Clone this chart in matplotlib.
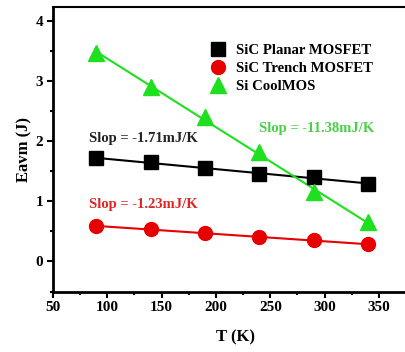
import numpy as np
import matplotlib.pyplot as plt
from matplotlib.ticker import MultipleLocator

# temperature (K)
temp = [90, 140, 190, 240, 290, 340]
# avalanche energy (J)
planar = [1.72, 1.65, 1.56, 1.45, 1.41, 1.29]
trench = [0.59, 0.54, 0.47, 0.40, 0.35, 0.29]
coolmos = [3.48, 2.90, 2.40, 1.82, 1.15, 0.65]

names = ["SiC Planar MOSFET", "SiC Trench MOSFET", "Si CoolMOS"]
slopes = ["Slop = -1.71mJ/K", "Slop = -1.23mJ/K", "Slop = -11.38mJ/K"]

plt.rcParams['font.family'] = ['Liberation Serif', 'DejaVu Serif']
plt.rcParams['font.weight'] = 'bold'

fig = plt.figure(figsize=(4.06, 3.52), dpi=100)
ax = fig.add_axes([53/406, 60.5/352, 364/406, 284.5/352])

cols = ['black', '#e60000', '#1ee01e']
marks = ['s', 'o', '^']
sizes = [9.5, 10, 11]
xs = np.array(temp)
for ys, c, m, ms, nm in zip([planar, trench, coolmos], cols, marks, sizes, names):
    k, b = np.polyfit(xs, ys, 1)
    ax.plot(xs, k*xs + b, color=c, lw=1.5, zorder=2)
    ax.plot(xs, ys, ls='none', marker=m, ms=ms, color=c, label=nm, zorder=3)

ax.text(83, 2.05, slopes[0], color='#222222', fontsize=10.5, va='center')
ax.text(83, 0.95, slopes[1], color='#e02525', fontsize=10.5, va='center')
ax.text(240, 2.21, slopes[2], color='#48d048', fontsize=10.5, va='center')

ax.set_xlim(50, 385)
ax.set_ylim(-0.5, 4.24)
ax.xaxis.set_major_locator(MultipleLocator(50))
ax.xaxis.set_minor_locator(MultipleLocator(25))
ax.yaxis.set_major_locator(MultipleLocator(1))
ax.yaxis.set_minor_locator(MultipleLocator(0.5))
ax.tick_params(which='major', direction='out', length=4, width=1.5, labelsize=11, pad=3)
ax.tick_params(which='minor', direction='out', length=2.5, width=1.5)
for sp in ax.spines.values():
    sp.set_linewidth(1.5)
ax.spines['left'].set_linewidth(2)
ax.spines['bottom'].set_linewidth(2)

ax.set_xlabel("T (K)", fontsize=12, fontweight='bold', labelpad=11)
ax.set_ylabel("Eavm (J)", fontsize=12, fontweight='bold', labelpad=2)

ax.legend(loc='upper left', bbox_to_anchor=(0.43, 0.87), frameon=False,
          fontsize=10.6, handlelength=1.2, handletextpad=0.6, labelspacing=0.3,
          borderaxespad=0, borderpad=0)

fig.savefig('out.png', dpi=100)
